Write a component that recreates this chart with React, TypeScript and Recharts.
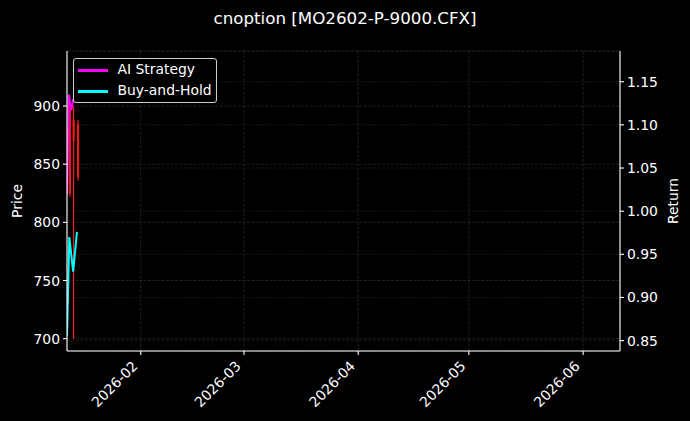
import React from 'react';
import { ComposedChart, Line, XAxis, YAxis, CartesianGrid, ReferenceLine } from 'recharts';

// ---- data ----
const titleText = 'cnoption [MO2602-P-9000.CFX]';

const candleDates = ['2026-01-12T19:00', '2026-01-13T19:00', '2026-01-15T00:00'];
const candleOpen = [897, 888, 884];
const candleClose = [825, 870, 839];
const candleHigh = [903, 900, 888];
const candleLow = [822, 700, 836];

const buyHoldDates = ['2026-01-12T00:00', '2026-01-12T15:00', '2026-01-13T16:00', '2026-01-14T17:00'];
const buyHoldValues = [0.855, 0.97, 0.93, 0.976];

const aiDates = ['2026-01-12T00:00', '2026-01-12T12:00', '2026-01-13T04:00', '2026-01-13T17:00'];
const aiValues = [1.02, 1.135, 1.117, 1.13];

const xDomainDates = ['2026-01-12', '2026-06-11'];
const xTickDates = ['2026-02-01', '2026-03-01', '2026-04-01', '2026-05-01', '2026-06-01'];

const priceDomain = [689.4, 947.3];
const priceTicks = [700, 750, 800, 850, 900];
const returnDomain = [0.838, 1.1856];
const returnTicks = [0.85, 0.9, 0.95, 1.0, 1.05, 1.1, 1.15];

// ---- helpers ----
function ts(s: string): number {
  const [d, t = '00:00'] = s.split('T');
  const [Y, M, D] = d.split('-').map(Number);
  const [h, m] = t.split(':').map(Number);
  return Date.UTC(Y, M - 1, D, h, m);
}

const aiData = aiDates.map((d, i) => ({ t: ts(d), v: aiValues[i] }));
const bhData = buyHoldDates.map((d, i) => ({ t: ts(d), v: buyHoldValues[i] }));
const candles = candleDates.map((d, i) => ({
  t: ts(d),
  o: candleOpen[i],
  c: candleClose[i],
  h: candleHigh[i],
  l: candleLow[i],
}));

const FONT = '"DejaVu Sans", sans-serif';
const FS = 13.9;
const CANDLE = '#f01818';

function fmtMonth(v: number) {
  const d = new Date(v);
  const m = d.getUTCMonth() + 1;
  return `${d.getUTCFullYear()}-${m < 10 ? '0' + m : m}`;
}

const XTick = (props: any) => {
  const { x, y, payload } = props;
  const px = x - 2.3;
  const py = y + 9;
  return (
    <text
      x={px}
      y={py}
      transform={`rotate(-45 ${px} ${py})`}
      textAnchor="end"
      fill="#ffffff"
      fontFamily={FONT}
      fontSize={FS}
    >
      {fmtMonth(payload.value)}
    </text>
  );
};

const YTick = (props: any) => {
  const { x, y, payload, textAnchor, fmt } = props;
  return (
    <text
      x={x}
      y={y}
      textAnchor={textAnchor}
      dominantBaseline="central"
      fill="#ffffff"
      fontFamily={FONT}
      fontSize={FS}
    >
      {fmt ? fmt(payload.value) : payload.value}
    </text>
  );
};

const YLabel = (props: any) => {
  const { viewBox, text, dx } = props;
  const vb = viewBox || { x: 0, y: 51, width: 67, height: 300 };
  const cx = vb.x + dx;
  const cy = vb.y + vb.height / 2;
  return (
    <text
      x={cx}
      y={cy}
      transform={`rotate(-90 ${cx} ${cy})`}
      textAnchor="middle"
      dominantBaseline="central"
      fill="#ffffff"
      fontFamily={FONT}
      fontSize={FS}
    >
      {text}
    </text>
  );
};

export default function App() {
  return (
    <div
      style={{
        position: 'absolute',
        left: 0,
        top: 0,
        width: 690,
        height: 421,
        background: '#000000',
        fontFamily: FONT,
      }}
    >
      <div
        style={{
          position: 'absolute',
          top: 8.5,
          left: 0,
          width: 690,
          textAlign: 'center',
          color: '#ffffff',
          fontSize: 16.7,
          lineHeight: '19.4px',
          fontFamily: FONT,
        }}
      >
        {titleText}
      </div>
      <ComposedChart
        width={690}
        height={421}
        data={bhData}
        margin={{ top: 51, right: 0, bottom: 0, left: 0 }}
        style={{ position: 'absolute', left: 0, top: 0 }}
      >
        <CartesianGrid
          xAxisId="bottom"
          yAxisId="left"
          stroke="#383838"
          strokeDasharray="3 1.5"
          strokeWidth={0.55}
          horizontal={true}
          vertical={true}
        />
        <CartesianGrid
          xAxisId="bottom"
          yAxisId="right"
          stroke="#262626"
          strokeDasharray="3 1.5"
          strokeWidth={0.55}
          horizontal={true}
          vertical={false}
        />
        <XAxis
          xAxisId="bottom"
          dataKey="t"
          type="number"
          scale="time"
          domain={[ts(xDomainDates[0]), ts(xDomainDates[1])]}
          allowDataOverflow
          ticks={xTickDates.map(ts)}
          height={70}
          stroke="#ffffff"
          axisLine={{ stroke: '#ffffff', strokeWidth: 1.1 }}
          tickLine={{ stroke: '#ffffff', strokeWidth: 1.1 }}
          tickSize={4}
          tickMargin={3}
          tick={<XTick />}
          interval={0}
        />
        <XAxis
          xAxisId="top"
          orientation="top"
          dataKey="t"
          type="number"
          domain={[ts(xDomainDates[0]), ts(xDomainDates[1])]}
          allowDataOverflow
          height={0}
          tick={false}
          tickLine={false}
          axisLine={{ stroke: '#ffffff', strokeWidth: 1.1 }}
        />
        <YAxis
          yAxisId="left"
          orientation="left"
          width={67}
          type="number"
          domain={priceDomain}
          allowDataOverflow
          ticks={priceTicks}
          interval={0}
          axisLine={{ stroke: '#ffffff', strokeWidth: 1.1 }}
          tickLine={{ stroke: '#ffffff', strokeWidth: 1.1 }}
          tickSize={4}
          tickMargin={3}
          tick={<YTick />}
          label={<YLabel text="Price" dx={17} />}
        />
        <YAxis
          yAxisId="right"
          orientation="right"
          width={70}
          type="number"
          domain={returnDomain}
          allowDataOverflow
          ticks={returnTicks}
          interval={0}
          axisLine={{ stroke: '#ffffff', strokeWidth: 1.1 }}
          tickLine={{ stroke: '#ffffff', strokeWidth: 1.1 }}
          tickSize={4}
          tickMargin={3}
          tick={<YTick fmt={(v: number) => v.toFixed(2)} />}
          label={<YLabel text="Return" dx={53} />}
        />
        {candles.map((c, i) => (
          <ReferenceLine
            key={'w' + i}
            xAxisId="bottom"
            yAxisId="left"
            segment={[
              { x: c.t, y: c.l },
              { x: c.t, y: c.h },
            ]}
            stroke={CANDLE}
            strokeWidth={1.3}
          />
        ))}
        {candles.map((c, i) => (
          <ReferenceLine
            key={'b' + i}
            xAxisId="bottom"
            yAxisId="left"
            segment={[
              { x: c.t, y: Math.min(c.o, c.c) },
              { x: c.t, y: Math.max(c.o, c.c) },
            ]}
            stroke={CANDLE}
            strokeWidth={2.2}
          />
        ))}
        <Line
          xAxisId="bottom"
          yAxisId="right"
          data={aiData}
          dataKey="v"
          type="linear"
          stroke="#ff00ff"
          strokeWidth={2}
          dot={false}
          isAnimationActive={false}
          name="AI Strategy"
        />
        <Line
          xAxisId="bottom"
          yAxisId="right"
          data={bhData}
          dataKey="v"
          type="linear"
          stroke="#00ffff"
          strokeWidth={2}
          dot={false}
          isAnimationActive={false}
          name="Buy-and-Hold"
        />
      </ComposedChart>
      <div
        style={{
          position: 'absolute',
          left: 73,
          top: 58,
          width: 144,
          height: 45,
          boxSizing: 'border-box',
          border: '1px solid #cccccc',
          borderRadius: 3,
          background: '#000000',
        }}
      >
        {[
          { name: 'AI Strategy', color: '#ff00ff', top: 11 },
          { name: 'Buy-and-Hold', color: '#00ffff', top: 32 },
        ].map((e) => (
          <div key={e.name}>
            <div
              style={{
                position: 'absolute',
                left: 3.5,
                top: e.top - 1,
                width: 30,
                height: 2.5,
                background: e.color,
              }}
            />
            <div
              style={{
                position: 'absolute',
                left: 43.5,
                top: e.top - 9,
                fontSize: FS,
                lineHeight: '17px',
                color: '#ffffff',
                whiteSpace: 'nowrap',
              }}
            >
              {e.name}
            </div>
          </div>
        ))}
      </div>
    </div>
  );
}
